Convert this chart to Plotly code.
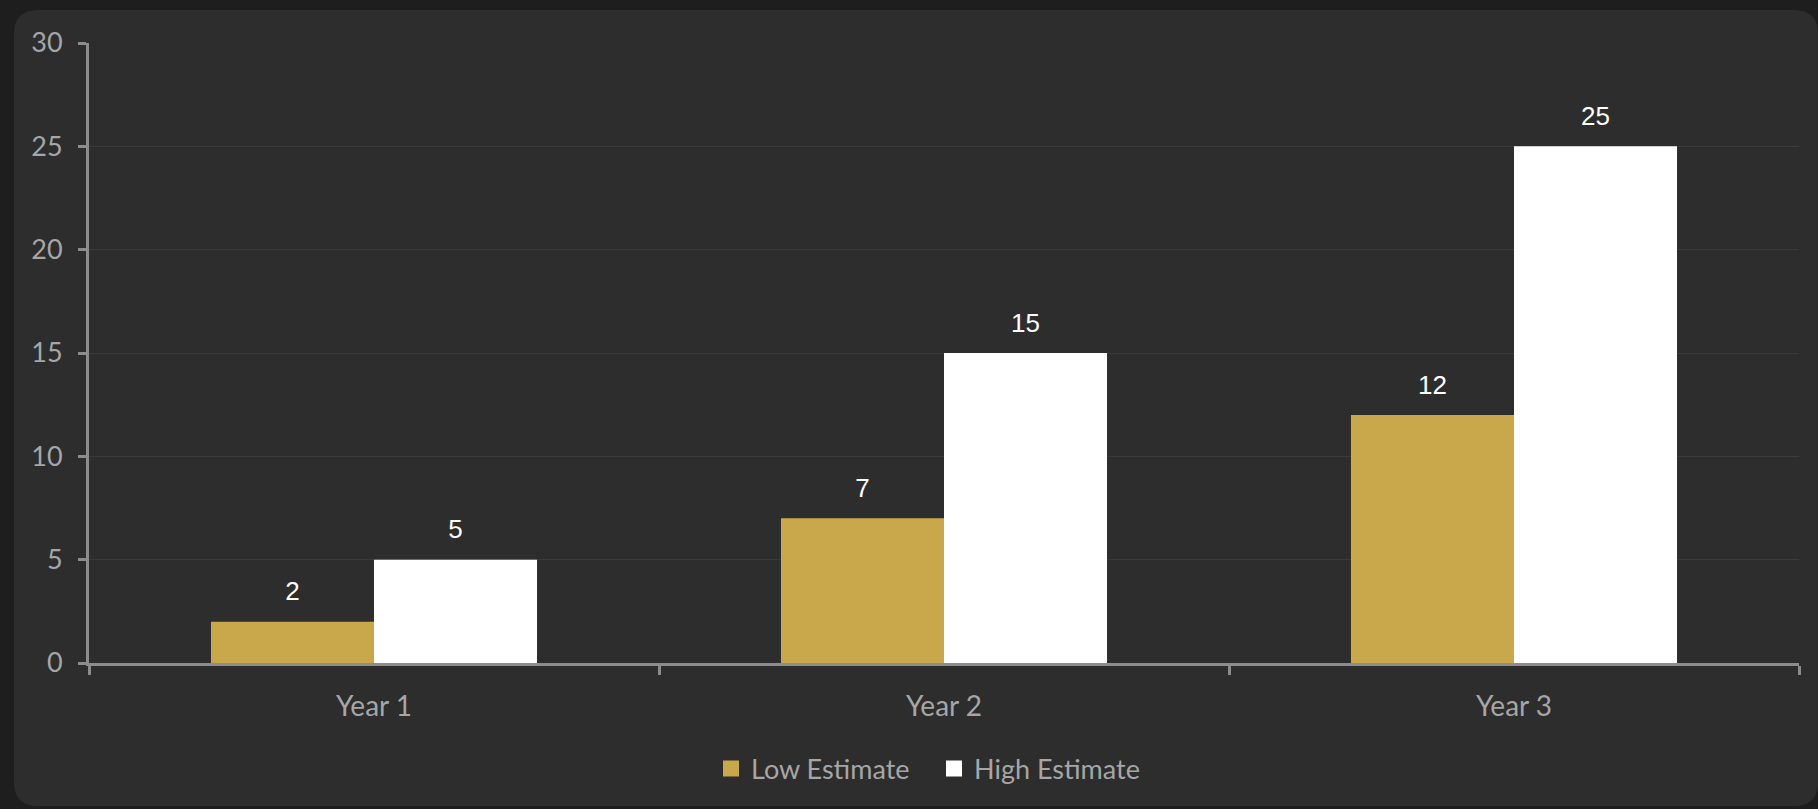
import plotly.graph_objects as go

categories = ["Year 1", "Year 2", "Year 3"]
low_estimate = [2, 7, 12]
high_estimate = [5, 15, 25]
series_names = ["Low Estimate", "High Estimate"]
y_ticks = [0, 5, 10, 15, 20, 25, 30]

GOLD = "#C9A84C"
WHITE = "#FFFFFF"
TICK_COLOR = "#A6A6A6"
AXIS_COLOR = "#8C8C8C"
GRID_COLOR = "#3A3A3A"
PANEL = "#2D2D2D"
OUTER = "#1E1E1E"

W, H = 1818, 809
ML, MR, MT, MB = 89, 19, 43, 146
PW, PH = W - ML - MR, H - MT - MB


def px_x(px):
    return (px - ML) / PW


def px_y(py):
    return (H - MB - py) / PH


fig = go.Figure()

for name, vals, col in [
    (series_names[0], low_estimate, GOLD),
    (series_names[1], high_estimate, WHITE),
]:
    fig.add_trace(go.Bar(
        x=categories, y=vals, name=name, marker=dict(color=col, line=dict(width=0)),
        showlegend=False, hoverinfo="x+y+name",
    ))

for name, vals, grp in [
    (series_names[0], low_estimate, "low"),
    (series_names[1], high_estimate, "high"),
]:
    fig.add_trace(go.Scatter(
        x=categories, y=vals, mode="markers+text", text=[str(v) for v in vals],
        textposition="top center",
        textfont=dict(family="Liberation Sans, Arial, sans-serif", size=26, color=WHITE),
        marker=dict(size=22, opacity=0),
        offsetgroup=grp, alignmentgroup="lbl", showlegend=False, hoverinfo="skip",
    ))

for name, col, grp in [
    (series_names[0], GOLD, "low"),
    (series_names[1], WHITE, "high"),
]:
    fig.add_trace(go.Scatter(
        x=[categories[0]], y=[None], mode="markers", name=name,
        marker=dict(symbol="square", size=17, color=col, line=dict(width=0)),
        offsetgroup=grp, alignmentgroup="lbl", showlegend=True, hoverinfo="skip",
    ))

L, R, T, B, r = 14, 1818, 10, 806, 24
path = (
    f"M {px_x(L + r)},{px_y(T)} L {px_x(R - r)},{px_y(T)} "
    f"Q {px_x(R)},{px_y(T)} {px_x(R)},{px_y(T + r)} "
    f"L {px_x(R)},{px_y(B - r)} Q {px_x(R)},{px_y(B)} {px_x(R - r)},{px_y(B)} "
    f"L {px_x(L + r)},{px_y(B)} Q {px_x(L)},{px_y(B)} {px_x(L)},{px_y(B - r)} "
    f"L {px_x(L)},{px_y(T + r)} Q {px_x(L)},{px_y(T)} {px_x(L + r)},{px_y(T)} Z"
)

fig.update_layout(
    width=W, height=H,
    margin=dict(l=ML, r=MR, t=MT, b=MB, pad=0),
    paper_bgcolor=OUTER, plot_bgcolor="rgba(0,0,0,0)",
    barmode="group", bargap=0.428, bargroupgap=0,
    scattermode="group", scattergap=0.428,
    shapes=[dict(type="path", xref="paper", yref="paper", path=path,
                 fillcolor=PANEL, line=dict(width=0), layer="below")],
    font=dict(family="Lato, Carlito, Calibri, sans-serif", color=TICK_COLOR),
    legend=dict(orientation="h", x=px_x(934), xanchor="center", y=px_y(769), yanchor="middle",
                font=dict(size=27, color=TICK_COLOR), bgcolor="rgba(0,0,0,0)",
                entrywidth=178, entrywidthmode="pixels", itemclick=False),
    xaxis=dict(type="category", tickson="boundaries", ticks="outside", ticklen=9,
               tickwidth=2.5, tickcolor=AXIS_COLOR, showline=True, linecolor=AXIS_COLOR,
               linewidth=3, showgrid=False, tickfont=dict(size=28, color=TICK_COLOR),
               ticklabelstandoff=16, zeroline=False, fixedrange=True),
    yaxis=dict(range=[0, 30], tickvals=y_ticks, ticks="outside", ticklen=8, tickwidth=2.5,
               tickcolor=AXIS_COLOR, showline=True, linecolor=AXIS_COLOR, linewidth=3,
               showgrid=True, gridcolor=GRID_COLOR, gridwidth=1, zeroline=False,
               ticklabelstandoff=10,
               tickfont=dict(size=27, color=TICK_COLOR), fixedrange=True),
)

fig.write_html("out.html")
